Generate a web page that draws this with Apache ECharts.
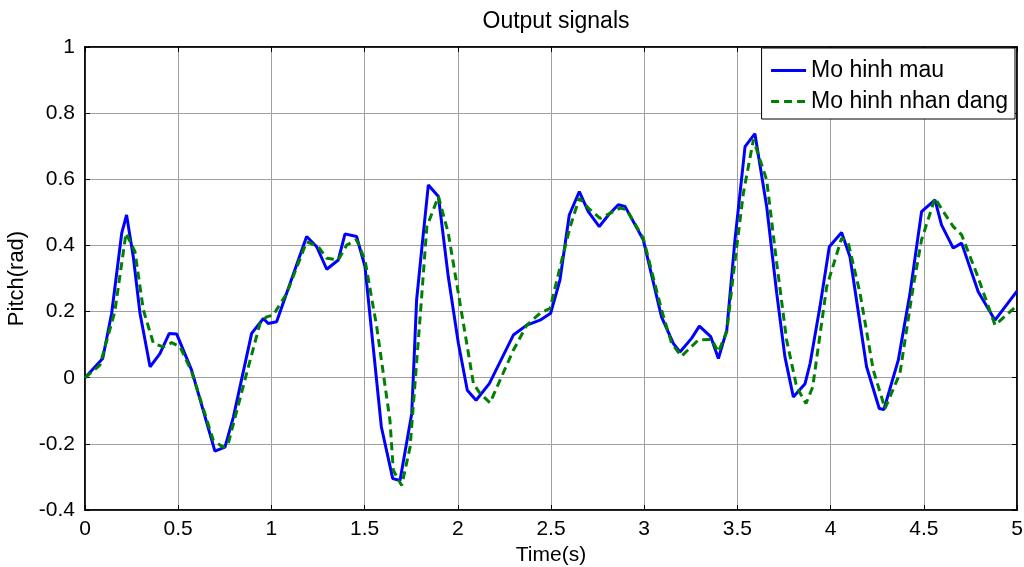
<!DOCTYPE html>
<html><head><meta charset="utf-8">
<script src="https://cdn.jsdelivr.net/npm/echarts@6/dist/echarts.min.js"></script>
<style>html,body{margin:0;padding:0;background:#fff}#c{width:1024px;height:567px}</style>
</head><body><div id="c"></div>
<script>
const titleText = "Output signals";
const xName = "Time(s)";
const yName = "Pitch(rad)";
const seriesNames = ["Mo hinh mau", "Mo hinh nhan dang"];

const blueT = [0,0.095,0.143,0.197,0.223,0.259,0.295,0.349,0.402,0.452,0.492,0.572,0.697,0.751,0.796,0.894,0.957,0.983,1.028,1.1,1.189,1.243,1.297,1.359,1.395,1.457,1.502,1.59,1.651,1.69,1.753,1.779,1.806,1.842,1.896,1.949,2.003,2.051,2.098,2.169,2.298,2.37,2.441,2.498,2.548,2.598,2.652,2.7,2.759,2.808,2.861,2.897,2.995,3.093,3.156,3.192,3.254,3.296,3.357,3.398,3.443,3.487,3.541,3.594,3.657,3.711,3.755,3.8,3.863,3.89,3.943,3.993,4.059,4.104,4.193,4.261,4.286,4.363,4.426,4.488,4.56,4.595,4.658,4.703,4.792,4.882,5.0];
const blueY = [0,0.058,0.195,0.437,0.492,0.366,0.195,0.033,0.073,0.134,0.132,0.023,-0.222,-0.21,-0.119,0.134,0.179,0.164,0.169,0.285,0.427,0.396,0.328,0.356,0.435,0.427,0.336,-0.149,-0.305,-0.311,-0.108,0.235,0.386,0.583,0.548,0.305,0.104,-0.038,-0.068,-0.018,0.129,0.159,0.174,0.195,0.295,0.492,0.563,0.502,0.457,0.492,0.523,0.518,0.417,0.184,0.104,0.078,0.119,0.156,0.124,0.058,0.144,0.417,0.699,0.738,0.518,0.255,0.063,-0.058,-0.018,0.043,0.215,0.396,0.439,0.366,0.033,-0.093,-0.096,0.053,0.255,0.502,0.538,0.462,0.392,0.407,0.26,0.174,0.262];

const greenT = [0,0.08,0.16,0.22,0.268,0.313,0.367,0.42,0.465,0.51,0.572,0.688,0.741,0.768,0.867,0.939,0.974,1.01,1.082,1.189,1.252,1.297,1.359,1.404,1.457,1.502,1.565,1.636,1.654,1.699,1.744,1.798,1.834,1.896,1.949,2.012,2.084,2.12,2.173,2.226,2.298,2.37,2.441,2.495,2.558,2.603,2.652,2.7,2.763,2.816,2.87,2.906,2.995,3.093,3.147,3.2,3.29,3.362,3.398,3.443,3.479,3.532,3.586,3.621,3.657,3.711,3.764,3.818,3.868,3.904,3.979,4.059,4.095,4.158,4.229,4.292,4.372,4.443,4.488,4.56,4.605,4.658,4.703,4.783,4.882,5.0];
const greenY = [0,0.038,0.2,0.437,0.381,0.205,0.104,0.093,0.106,0.093,0.018,-0.189,-0.21,-0.2,0.013,0.164,0.184,0.189,0.255,0.411,0.396,0.361,0.356,0.401,0.417,0.356,0.154,-0.129,-0.28,-0.326,-0.21,0.184,0.457,0.548,0.437,0.225,-0.018,-0.048,-0.076,-0.008,0.083,0.159,0.195,0.21,0.356,0.457,0.543,0.513,0.482,0.497,0.513,0.508,0.422,0.205,0.104,0.065,0.114,0.116,0.078,0.139,0.316,0.558,0.72,0.659,0.598,0.346,0.114,-0.028,-0.078,-0.028,0.275,0.422,0.407,0.255,0.023,-0.093,0.013,0.275,0.417,0.543,0.502,0.457,0.432,0.316,0.159,0.218];

const blueData = blueT.map((t, i) => [t, blueY[i]]);
const greenData = greenT.map((t, i) => [t, greenY[i]]);

const font = "Liberation Sans, Arial, sans-serif";
const chart = echarts.init(document.getElementById('c'));
const gridLine = {show: true, lineStyle: {color: '#a0a0a0', width: 1}};
chart.setOption({
  animation: false,
  title: {text: titleText, left: 551, top: 5, textAlign: 'center',
    textStyle: {fontFamily: font, fontSize: 23, fontWeight: 'normal', color: '#000'}},
  grid: {left: 85, right: 7, top: 47, bottom: 57, show: true, borderColor: '#000', borderWidth: 1.5,
    containLabel: false, outerBoundsMode: 'none'},
  legend: {
    show: true,
    data: seriesNames, orient: 'vertical', right: 9, top: 48,
    backgroundColor: '#fff', borderColor: '#000', borderWidth: 1,
    padding: [11, 7, 6, 8], itemGap: 8, itemWidth: 35, itemHeight: 22,
    itemStyle: {opacity: 0},
    lineStyle: {width: 3},
    textStyle: {fontFamily: font, fontSize: 23, color: '#000'}
  },
  xAxis: [{
    type: 'value', min: 0, max: 5, interval: 0.5,
    name: xName, nameLocation: 'middle', nameGap: 32,
    nameTextStyle: {fontFamily: font, fontSize: 21, color: '#000'},
    axisLine: {show: true, onZero: false, lineStyle: {color: '#000', width: 1.5}},
    axisTick: {show: true, inside: true, length: 5, lineStyle: {color: '#000'}},
    axisLabel: {fontFamily: font, fontSize: 21, color: '#000', margin: 9},
    splitLine: gridLine
  }, {
    type: 'value', min: 0, max: 5, interval: 0.5, position: 'top',
    axisLine: {show: true, onZero: false, lineStyle: {color: '#000', width: 1.5}},
    axisTick: {show: true, inside: true, length: 5, lineStyle: {color: '#000'}},
    axisLabel: {show: false}, splitLine: {show: false}
  }],
  yAxis: [{
    type: 'value', min: -0.4, max: 1, interval: 0.2,
    name: yName, nameLocation: 'middle', nameGap: 51, nameRotate: 90,
    nameTextStyle: {fontFamily: font, fontSize: 22, color: '#000'},
    axisLine: {show: true, onZero: false, lineStyle: {color: '#000', width: 1.5}},
    axisTick: {show: true, inside: true, length: 5, lineStyle: {color: '#000'}},
    axisLabel: {fontFamily: font, fontSize: 21, color: '#000', margin: 10,
      formatter: v => String(Math.round(v * 10) / 10)},
    splitLine: gridLine
  }, {
    type: 'value', min: -0.4, max: 1, interval: 0.2, position: 'right',
    axisLine: {show: true, onZero: false, lineStyle: {color: '#000', width: 1.5}},
    axisTick: {show: true, inside: true, length: 5, lineStyle: {color: '#000'}},
    axisLabel: {show: false}, splitLine: {show: false}
  }],
  series: [{
    name: seriesNames[0], type: 'line', data: blueData, showSymbol: false, symbol: 'none',
    lineStyle: {color: '#0000ff', width: 3}, itemStyle: {color: '#0000ff'}
  }, {
    name: seriesNames[1], type: 'line', data: greenData, showSymbol: false, symbol: 'none',
    lineStyle: {color: '#008000', width: 3, type: [8, 5]}, itemStyle: {color: '#008000'}
  }]
});
</script></body></html>
